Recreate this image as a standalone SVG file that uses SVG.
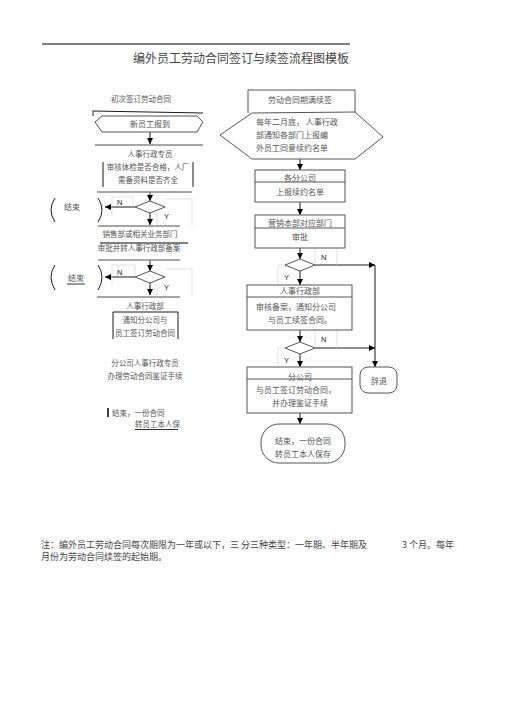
<svg xmlns="http://www.w3.org/2000/svg" width="505" height="714" viewBox="0 0 505 714">
<defs>
<marker id="ah" markerUnits="userSpaceOnUse" markerWidth="6" markerHeight="6" refX="6" refY="3" orient="auto">
<path d="M0,0 L6,3 L0,6 z" fill="#000"/>
</marker>
<style>
text{font-family:"Noto Sans CJK SC","Noto Sans",sans-serif;fill:#555;font-size:8px}
.s{font-size:7.5px}
.m{text-anchor:middle}
.yn{font-family:"Liberation Sans",Arial,sans-serif;font-size:7.5px;fill:#222}
.box{fill:#fff;stroke:#555;stroke-width:1}
.ln{fill:none;stroke:#000;stroke-width:0.9}
.cn{fill:none;stroke:#000;stroke-width:0.9;marker-end:url(#ah)}
.gr{fill:none;stroke:#888;stroke-width:1.5}
.fg{fill:none;stroke:#d4d4d4;stroke-width:0.7}
.note{font-size:9px;fill:#444}
</style>
</defs>
<rect width="505" height="714" fill="#fff"/>
<line x1="42" y1="44" x2="350" y2="44" stroke="#000" stroke-width="1"/>
<text x="241" y="63" class="m" style="font-size:12px;fill:#444">编外员工劳动合同签订与续签流程图模板</text>

<g id="connectors">
<path class="cn" d="M150,132 L150,144"/>
<path class="cn" d="M150,192 L150,201"/>
<path class="cn" d="M135,207 L105,207"/>
<path class="cn" d="M150,213 L150,225"/>
<path class="cn" d="M150,260 L150,271"/>
<path class="cn" d="M135,277 L105,277"/>
<path class="cn" d="M150,283 L150,295"/>
<path class="cn" d="M300,159 L300,170"/>
<path class="cn" d="M300,202 L300,215"/>
<path class="cn" d="M300,248 L300,259"/>
<path class="cn" d="M315,265 L375,265"/>
<path class="cn" d="M300,271 L300,285"/>
<path class="cn" d="M300,330 L300,342"/>
<path class="cn" d="M315,348 L375,348"/>
<path class="cn" d="M300,354 L300,367"/>
<path class="cn" d="M300,413 L300,424"/>
<path class="cn" d="M375,265 L375,367"/>
<path class="fg" d="M112,215 L112,197 L133,197 L133,207"/>
<path class="fg" d="M157,214 L157,226 M165,199 L192,199 L192,226"/>
<path class="fg" d="M112,285 L112,265 L135,265 L135,277"/>
<path class="fg" d="M157,284 L157,296 M165,269 L192,269 L192,296"/>
<path class="fg" d="M315,248 L315,265 M337,248 L337,265"/>
<path class="fg" d="M285,265 L278,265 L278,285"/>
<path class="fg" d="M315,330 L315,348 M337,330 L337,348"/>
<path class="fg" d="M285,348 L278,348 L278,367"/>
</g>

<g id="first-sign-label"><text x="141" y="102" class="m s">初次签订劳动合同</text></g>
<g id="new-employee">
<path class="ln" d="M93,116 L93,111 L203,113"/>
<polygon class="box" points="95,122 102,116 197,116 203,122 197,132 102,132"/>
<text x="150" y="127" class="m">新员工报到</text>
</g>
<g id="hr-check">
<line class="gr" x1="95" y1="145" x2="203" y2="145"/>
<text x="150" y="157" class="m s">人事行政专员</text>
<path class="ln" d="M103,162 L103,187 M193,162 L193,187"/>
<text x="148" y="170" class="m s">审核体检是否合格，人厂</text>
<text x="148" y="183" class="m s">需备资料是否齐全</text>
<line class="gr" x1="97" y1="192" x2="192" y2="192"/>
</g>
<g id="decision-1">
<polygon class="box" points="135,207 150,201 165,207 150,213"/>
<text x="117" y="205" class="yn">N</text>
<text x="164" y="219" class="yn">Y</text>
<line class="gr" x1="98" y1="226" x2="180" y2="226"/>
</g>
<g id="end-1">
<path class="ln" d="M55,198 Q47,210 55,222 M98,198 Q106,210 98,222"/>
<text x="72" y="210" class="m">结束</text>
</g>
<g id="sales-approve">
<text x="140" y="237" class="m s">销售部或相关业务部门</text>
<line x1="100" y1="243" x2="188" y2="243" stroke="#000" stroke-width="1"/>
<text x="139" y="251" class="m s">审批并转人事行政部备案</text>
<line class="gr" x1="98" y1="260" x2="180" y2="260"/>
</g>
<g id="decision-2">
<polygon class="box" points="135,277 150,271 165,277 150,283"/>
<text x="117" y="275" class="yn">N</text>
<text x="164" y="290" class="yn">Y</text>
<line class="gr" x1="97" y1="297" x2="180" y2="297"/>
</g>
<g id="end-2">
<path class="ln" d="M55,265 Q47,277 55,290 M98,265 Q106,277 98,290"/>
<text x="76" y="281" class="m">结束</text>
<line x1="67" y1="284" x2="85" y2="284" stroke="#000" stroke-width="0.8"/>
</g>
<g id="hr-notify">
<text x="145" y="309" class="m s">人事行政部</text>
<path class="ln" d="M113,339 L113,312 L178,312 L178,339"/>
<text x="145" y="323" class="m s">通知分公司与</text>
<text x="145" y="336" class="m s">员工签订劳动合同</text>
</g>
<g id="branch-hr">
<text x="145" y="366" class="m s">分公司人事行政专员</text>
<text x="145" y="379" class="m s">办理劳动合同鉴证手续</text>
</g>
<g id="end-3">
<line x1="108" y1="408" x2="108" y2="417" stroke="#000" stroke-width="1.5"/>
<text x="112" y="416" class="s">结束，一份合同</text>
<text x="135" y="427" class="s">转员工本人保</text>
<line x1="135" y1="429.5" x2="178" y2="429.5" stroke="#000" stroke-width="0.8"/>
</g>

<g id="renewal">
<path class="box" d="M248,113 L248,90 L355,90 L355,112"/>
<text x="300" y="103" class="m">劳动合同期满续签</text>
</g>
<g id="notify-list">
<polygon class="box" points="220,135 252,113 355,112 383,137 355,159 252,159"/>
<text x="256" y="125">每年二月底，  人事行政</text>
<text x="256" y="138">部通知各部门上报编</text>
<text x="256" y="151">外员工同意续约名单</text>
</g>
<g id="branches">
<rect class="box" x="255" y="170" width="90" height="32"/>
<line x1="255" y1="182" x2="345" y2="182" stroke="#555"/>
<text x="300" y="181" class="m">各分公司</text>
<text x="300" y="195" class="m">上报续约名单</text>
</g>
<g id="marketing">
<rect class="box" x="255" y="215" width="90" height="33"/>
<text x="300" y="226" class="m">营销本部对应部门</text>
<line x1="255" y1="228" x2="345" y2="228" stroke="#555"/>
<text x="300" y="240" class="m">审批</text>
</g>
<g id="decision-3">
<polygon class="box" points="285,265 300,259 315,265 300,271"/>
<text x="321" y="260" class="yn">N</text>
<text x="284" y="280" class="yn">Y</text>
</g>
<g id="hr-dept">
<rect class="box" x="247" y="285" width="105" height="45"/>
<text x="300" y="294" class="m">人事行政部</text>
<line x1="247" y1="297" x2="352" y2="297" stroke="#555"/>
<text x="296" y="310" class="m">审核备案，通知分公司</text>
<text x="300" y="323" class="m">与员工续签合同。</text>
</g>
<g id="decision-4">
<polygon class="box" points="285,348 300,342 315,348 300,354"/>
<text x="321" y="342" class="yn">N</text>
<text x="284" y="363" class="yn">Y</text>
</g>
<g id="branch-sign">
<rect class="box" x="247" y="367" width="105" height="46"/>
<text x="300" y="380" class="m">分公司</text>
<line x1="247" y1="379" x2="352" y2="379" stroke="#555"/>
<text x="296" y="393" class="m">与员工签订劳动合同，</text>
<text x="300" y="406" class="m">并办理鉴证手续</text>
</g>
<g id="end-renew">
<rect class="box" x="261" y="424" width="84" height="39" rx="18"/>
<text x="303" y="444" class="m">结束，一份合同</text>
<text x="303" y="457" class="m">转员工本人保存</text>
</g>
<g id="dismiss">
<rect class="box" x="360" y="367" width="37" height="26" rx="8"/>
<text x="379" y="384" class="m">辞退</text>
</g>

<g id="note">
<text x="41" y="548" class="note">注：编外员工劳动合同每次期限为一年或以下，三 分三种类型：一年期、半年期及</text>
<text x="402" y="548" class="note">3 个月。每年</text>
<text x="41" y="560" class="note">月份为劳动合同续签的起始期。</text>
</g>
</svg>
